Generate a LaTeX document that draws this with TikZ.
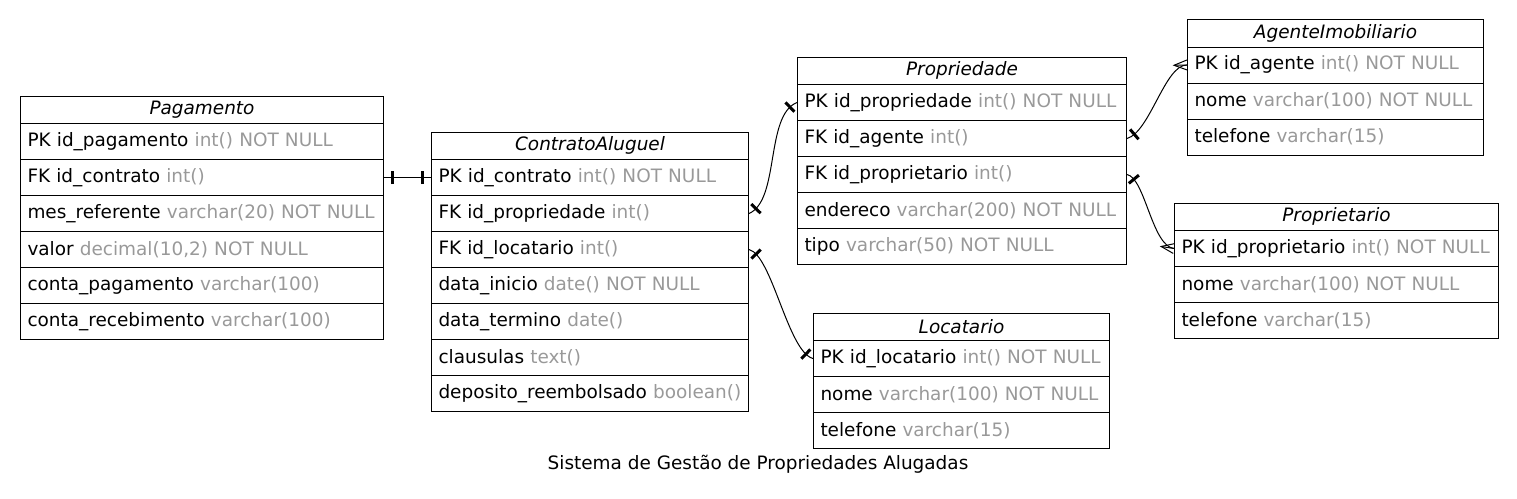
\documentclass[tikz,border=0pt]{standalone}
\usepackage{fontspec}
\setmainfont{DejaVu Sans}
\usetikzlibrary{decorations.markings}
\definecolor{typegray}{RGB}{153,153,153}
\newcommand\ty[1]{\textcolor{typegray}{#1}}
\tikzset{
  x=1pt, y=-1pt,
  basefont/.style={font=\fontsize{18.45}{22}\selectfont},
  titlecell/.style={draw, line width=1pt, anchor=north west, inner sep=0pt, minimum height=27.5pt, font=\fontsize{18.45}{22}\selectfont\itshape},
  rowcell/.style={draw, line width=1pt, anchor=north west, inner xsep=7pt, inner ysep=0pt, minimum height=36pt, align=left, basefont},
  rel/.style={line width=1pt},
  teestart/.style={postaction={decorate, decoration={markings, mark=at position 8.5pt with {\draw[line width=3pt] (0,-6.5pt) -- (0,6.5pt);}}}},
  teeend/.style={postaction={decorate, decoration={markings, mark=at position -8.5pt with {\draw[line width=3pt] (0,-6.5pt) -- (0,6.5pt);}}}},
  crowend/.style={postaction={decorate, decoration={markings, mark=at position -0.5pt with {\draw[line width=1pt, line join=miter] (0.5pt,-5pt) -- (-12.5pt,0) -- (0.5pt,5pt); \draw[line width=1pt] (-12.5pt,0) -- (0.5pt,0);}}}},
}
\newcommand\erdtitle[5]{% name, x, y, width, text
  \node[titlecell, minimum width=#4pt] (#1) at (#2,#3) {#5};}
\newcommand\erdrow[5]{% name, x, y, width, text
  \pgfmathsetmacro\tw{#4-14}%
  \node[rowcell, minimum width=#4pt, text width=\tw pt] (#1) at (#2,#3) {\mbox{#5}};}
\begin{document}
\begin{tikzpicture}
\useasboundingbox (0,0) rectangle (1517,498);
% Pagamento
\erdtitle{pagT}{20}{95.5}{363}{Pagamento}
\erdrow{pag1}{20}{123}{363}{PK id\_pagamento \ty{int() NOT NULL}}
\erdrow{pag2}{20}{159}{363}{FK id\_contrato \ty{int()}}
\erdrow{pag3}{20}{195}{363}{mes\_referente \ty{varchar(20) NOT NULL}}
\erdrow{pag4}{20}{231}{363}{valor \ty{decimal(10,2) NOT NULL}}
\erdrow{pag5}{20}{267}{363}{conta\_pagamento \ty{varchar(100)}}
\erdrow{pag6}{20}{303}{363}{conta\_recebimento \ty{varchar(100)}}
% ContratoAluguel
\erdtitle{conT}{431}{131.5}{317}{ContratoAluguel}
\erdrow{con1}{431}{159}{317}{PK id\_contrato \ty{int() NOT NULL}}
\erdrow{con2}{431}{195}{317}{FK id\_propriedade \ty{int()}}
\erdrow{con3}{431}{231}{317}{FK id\_locatario \ty{int()}}
\erdrow{con4}{431}{267}{317}{data\_inicio \ty{date() NOT NULL}}
\erdrow{con5}{431}{303}{317}{data\_termino \ty{date()}}
\erdrow{con6}{431}{339}{317}{clausulas \ty{text()}}
\erdrow{con7}{431}{375}{317}{deposito\_reembolsado \ty{boolean()}}
% Propriedade
\erdtitle{proT}{797}{56.5}{329}{Propriedade}
\erdrow{pro1}{797}{84}{329}{PK id\_propriedade \ty{int() NOT NULL}}
\erdrow{pro2}{797}{120}{329}{FK id\_agente \ty{int()}}
\erdrow{pro3}{797}{156}{329}{FK id\_proprietario \ty{int()}}
\erdrow{pro4}{797}{192}{329}{endereco \ty{varchar(200) NOT NULL}}
\erdrow{pro5}{797}{228}{329}{tipo \ty{varchar(50) NOT NULL}}
% AgenteImobiliario
\erdtitle{ageT}{1187}{19}{296}{AgenteImobiliario}
\erdrow{age1}{1187}{46.5}{296}{PK id\_agente \ty{int() NOT NULL}}
\erdrow{age2}{1187}{82.5}{296}{nome \ty{varchar(100) NOT NULL}}
\erdrow{age3}{1187}{118.5}{296}{telefone \ty{varchar(15)}}
% Proprietario
\erdtitle{ptrT}{1174}{202.5}{324}{Proprietario}
\erdrow{ptr1}{1174}{230}{324}{PK id\_proprietario \ty{int() NOT NULL}}
\erdrow{ptr2}{1174}{266}{324}{nome \ty{varchar(100) NOT NULL}}
\erdrow{ptr3}{1174}{302}{324}{telefone \ty{varchar(15)}}
% Locatario
\erdtitle{locT}{813}{312.5}{296}{Locatario}
\erdrow{loc1}{813}{340}{296}{PK id\_locatario \ty{int() NOT NULL}}
\erdrow{loc2}{813}{376}{296}{nome \ty{varchar(100) NOT NULL}}
\erdrow{loc3}{813}{412}{296}{telefone \ty{varchar(15)}}
% relations
\draw[rel, teestart, teeend] (pag2.east) -- (con1.west);
\draw[rel, teestart, teeend] (con2.east) .. controls (780,200) and (765,115) .. (pro1.west);
\draw[rel, teestart, teeend] (con3.east) .. controls (772,255) and (788,352) .. (loc1.west);
\draw[rel, teestart, crowend] (pro2.east) .. controls (1150,132) and (1165,64.5) .. (age1.west);
\draw[rel, teestart, crowend] (pro3.east) .. controls (1145,178) and (1152,246) .. (ptr1.west);
% caption
\node[basefont] (caption) at (758,464) {Sistema de Gestão de Propriedades Alugadas};
\end{tikzpicture}
\end{document}
